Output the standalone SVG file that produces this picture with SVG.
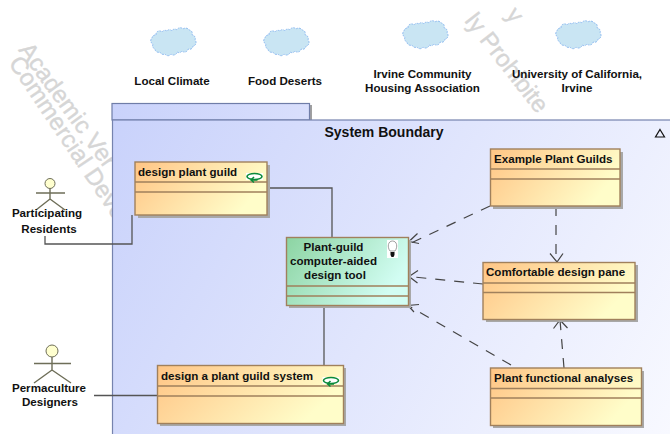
<svg xmlns="http://www.w3.org/2000/svg" width="670" height="434" viewBox="0 0 670 434">
<style>
text{font-family:"Liberation Sans",Arial,sans-serif;font-weight:bold;font-size:11.6px;fill:#111}
.m{text-anchor:middle}
.wm{font-size:24px;font-weight:normal;fill:#d6d6d6;stroke:#d6d6d6;stroke-width:.4}
.cl{stroke:#a0805c;stroke-width:1.4}
.sh{fill:#a8a8a8}
.c{fill:none;stroke:#555;stroke-width:1.3}
.d{fill:none;stroke:#444;stroke-width:1.2;stroke-dasharray:10 9}
.a{fill:none;stroke:#444;stroke-width:1.2}
.act{fill:none;stroke:#6e6e58;stroke-width:1.4}
.cloud{fill:#c9e5f3;stroke:#7fb0ee;stroke-width:.8;stroke-dasharray:2 1}
</style>
<defs>
<linearGradient id="po" x1="0" y1="0" x2="1" y2="0.35"><stop offset="0" stop-color="#ffc585"/><stop offset="1" stop-color="#fffdc9"/></linearGradient>
<linearGradient id="gr" x1="0" y1="0" x2="1" y2="0.4"><stop offset="0" stop-color="#8cd4a2"/><stop offset="1" stop-color="#d2fdf3"/></linearGradient>
<linearGradient id="pk" gradientUnits="userSpaceOnUse" x1="112" y1="120" x2="670" y2="434"><stop offset="0" stop-color="#c9d2fb"/><stop offset="1" stop-color="#f8f9ff"/></linearGradient>
<linearGradient id="tb" x1="0" y1="0" x2="1" y2="0"><stop offset="0" stop-color="#c9d2fb"/><stop offset="1" stop-color="#d9dffc"/></linearGradient>
<path id="cl" class="cloud" d="M5 7A3.500 3.500 0 0 1 11 4A3.500 3.500 0 0 1 16 3A3 3 0 0 1 21 3A3 3 0 0 1 26 2A3.500 3.500 0 0 1 32 1A4 4 0 0 1 38 2A3.500 3.500 0 0 1 41 7A3.500 3.500 0 0 1 44 12A3.500 3.500 0 0 1 42 18A3.500 3.500 0 0 1 37 21A3.500 3.500 0 0 1 31 23A3.500 3.500 0 0 1 26 24A3.500 3.500 0 0 1 20 26A3.500 3.500 0 0 1 14 26A3.500 3.500 0 0 1 9 24A3.500 3.500 0 0 1 4 21A3.500 3.500 0 0 1 2 16A3.500 3.500 0 0 1 1 10A3.500 3.500 0 0 1 5 7Z"/>
<g id="rot"><rect x="-8.500" y="-3.500" width="17" height="7" fill="#fff"/><ellipse cx="0" cy="0" rx="7.500" ry="3" fill="none" stroke="#0a8a3a" stroke-width="1.6"/><path d="M-3 3.500H3M-.5 .5L-3.500 3.500L-.5 6" fill="none" stroke="#0a8a3a" stroke-width="1.500"/></g>
</defs>
<rect width="670" height="434" fill="#fff"/>
<g id="watermark">
<text class="wm" transform="translate(18 50) rotate(54)">Academic Ver</text>
<text class="wm" transform="translate(8 63) rotate(56)">Commercial Deve</text>
<text class="wm" transform="translate(505 15) rotate(52)">y</text>
<text class="wm" transform="translate(464 21) rotate(52)">ly Prohibite</text>
</g>
<g id="package">
<rect x="114" y="105" width="198" height="17" fill="#a0a0a0"/>
<rect x="112" y="103.500" width="197.500" height="16.500" fill="url(#tb)" stroke="#6f7da8" stroke-width="1.2"/>
<rect x="112.500" y="120" width="560" height="316" fill="url(#pk)" stroke="#7683ae" stroke-width="1.2"/>
<text class="m" x="384" y="137" style="font-size:14px">System Boundary</text>
<path d="M660 129.500L664.500 137H655.500Z" fill="none" stroke="#111" stroke-width="1.2"/>
</g>
<g id="connectors">
<path class="c" d="M267 188H332V237"/>
<path class="c" d="M45 236V244H132V215"/>
<path class="c" d="M324 305V365"/>
<path class="c" d="M94 395.500H157"/>
<path class="d" d="M490 206L409 244"/>
<path class="a" d="M417.500 233.500L409 241.500L419 243.500"/>
<path class="d" d="M483 284L409 276.500"/>
<path class="a" d="M418 270.500L409 276.500L417.500 283"/>
<path class="d" d="M511 365L408 305.500"/>
<path class="a" d="M419 304.500L408 305.500L414 312"/>
<path class="d" d="M556 206V262"/>
<path class="a" d="M550 253.500L557 262L563 253.500"/>
<path class="d" d="M564 368L560 320"/>
<path class="a" d="M553.500 328.500L560 320L567.500 328"/>
</g>
<g id="cloud-local-climate"><use href="#cl" x="151" y="28"/><text class="m" x="172" y="85">Local Climate</text></g>
<g id="cloud-food-deserts"><use href="#cl" x="264" y="28"/><text class="m" x="285" y="85">Food Deserts</text></g>
<g id="cloud-irvine-housing"><use href="#cl" x="403" y="21"/><text class="m" x="422.500" y="78">Irvine Community</text><text class="m" x="422.500" y="92">Housing Association</text></g>
<g id="cloud-uci"><use href="#cl" x="556" y="21"/><text class="m" x="577" y="78">University of California,</text><text class="m" x="577" y="92">Irvine</text></g>
<g id="actor-residents">
<circle cx="50" cy="183.500" r="5" fill="#ffffcf" stroke="#6e6e58"/>
<path class="act" d="M36 193H65M50 188.500V199M50 199L36 210M50 199L65 210"/>
<text class="m" x="47" y="217">Participating</text><text class="m" x="49" y="233">Residents</text>
</g>
<g id="actor-designers">
<circle cx="52" cy="351" r="6" fill="#ffffcf" stroke="#6e6e58"/>
<path class="act" d="M34 363.500H71M52 357V370M52 370L34 383M52 370L71 383"/>
<text class="m" x="49" y="392">Permaculture</text><text class="m" x="50" y="406">Designers</text>
</g>
<g id="design-plant-guild">
<rect class="sh" x="138" y="165" width="132" height="53"/>
<rect class="cl" x="135" y="162" width="132" height="53" fill="url(#po)"/>
<path class="cl" d="M135 182H267M135 192H267"/>
<text x="138" y="176">design plant guild</text>
<use href="#rot" x="254.500" y="176.500"/>
</g>
<g id="design-system">
<rect class="sh" x="160" y="368" width="186" height="58"/>
<rect class="cl" x="157.500" y="365.500" width="186" height="58" fill="url(#po)"/>
<path class="cl" d="M157.500 386H343.500M157.500 396H343.500"/>
<text x="161" y="380">design a plant guild system</text>
<use href="#rot" x="331" y="380.500"/>
</g>
<g id="example-guilds">
<rect class="sh" x="493" y="152" width="130" height="57"/>
<rect class="cl" x="490.500" y="149" width="129.500" height="57" fill="url(#po)"/>
<path class="cl" d="M490.500 169H620M490.500 179H620"/>
<text x="494" y="163">Example Plant Guilds</text>
</g>
<g id="comfortable-pane">
<rect class="sh" x="486" y="265" width="152" height="57"/>
<rect class="cl" x="483" y="262.500" width="152" height="57" fill="url(#po)"/>
<path class="cl" d="M483 283H635M483 292.500H635"/>
<text x="486" y="276">Comfortable design pane</text>
</g>
<g id="functional-analyses">
<rect class="sh" x="493" y="371" width="151" height="57"/>
<rect class="cl" x="490.500" y="368" width="151" height="57.500" fill="url(#po)"/>
<path class="cl" d="M490.500 388.500H641.500M490.500 398H641.500"/>
<text x="494" y="382">Plant functional analyses</text>
</g>
<g id="design-tool">
<rect class="sh" x="289" y="240" width="122" height="68"/>
<rect class="cl" x="286.500" y="237.500" width="122" height="68" fill="url(#gr)"/>
<path class="cl" d="M286.500 286H408.500M286.500 296H408.500"/>
<text class="m" x="333.500" y="251">Plant-guild</text><text class="m" x="333.500" y="265">computer-aided</text><text class="m" x="335" y="279">design tool</text>
<rect x="387" y="240" width="11" height="18" fill="#fff"/>
<path d="M390 251C387 247 388 241 392.500 241C397 241 398 247 395 251Z" fill="#fff" stroke="#777" stroke-width=".7"/>
<path d="M390.500 252H394.500V255L393.500 257H391.500L390.500 255Z" fill="#111"/>
</g>
</svg>
